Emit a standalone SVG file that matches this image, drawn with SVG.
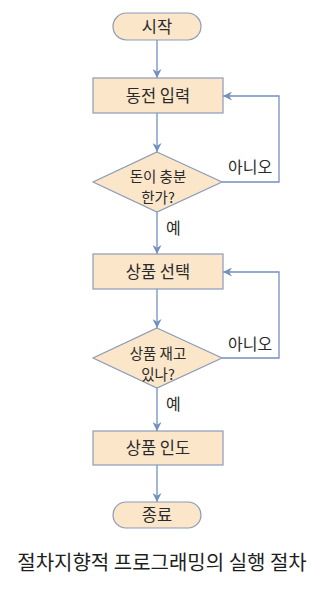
<svg xmlns="http://www.w3.org/2000/svg" width="334" height="590" viewBox="0 0 334 590">
<style>
.n{fill:#fbe6ca;stroke:#8c9cb6;stroke-width:1.2}
.t{font-family:"Noto Sans CJK KR","Noto Sans",sans-serif;font-size:16.5px;fill:#2a2a2a;text-anchor:middle}
.d{font-family:"Noto Sans CJK KR","Noto Sans",sans-serif;font-size:14.5px;fill:#2a2a2a;text-anchor:middle}
.l{font-family:"Noto Sans CJK KR","Noto Sans",sans-serif;font-size:16px;fill:#2a2a2a}
.c{fill:none;stroke:#7290c0;stroke-width:1.3}
.cap{font-family:"Noto Sans CJK KR","Noto Sans",sans-serif;font-size:20px;fill:#1e1e1e;text-anchor:middle}
</style>
<defs>
<marker id="a" viewBox="0 0 10 10" refX="10" refY="5" markerWidth="9" markerHeight="9" markerUnits="userSpaceOnUse" orient="auto">
<path d="M0,0 L10,5 L0,10 L3,5 Z" fill="#7290c0"/>
</marker>
</defs>
<rect width="334" height="590" fill="#ffffff"/>
<g id="connectors">
<line class="c" x1="157" y1="40" x2="157" y2="78" marker-end="url(#a)"/>
<line class="c" x1="157" y1="113" x2="157" y2="152" marker-end="url(#a)"/>
<polyline class="c" points="222,182 279,182 279,96 223,96" marker-end="url(#a)"/>
<line class="c" x1="157" y1="212" x2="157" y2="254" marker-end="url(#a)"/>
<line class="c" x1="157" y1="289" x2="157" y2="328" marker-end="url(#a)"/>
<polyline class="c" points="222,358 279,358 279,272 223,272" marker-end="url(#a)"/>
<line class="c" x1="157" y1="388" x2="157" y2="431" marker-end="url(#a)"/>
<line class="c" x1="157" y1="465" x2="157" y2="502" marker-end="url(#a)"/>
<text class="l" x="228" y="173">아니오</text>
<text class="l" x="166" y="234">예</text>
<text class="l" x="228" y="350">아니오</text>
<text class="l" x="166" y="410">예</text>
</g>
<g id="start">
<rect class="n" x="113" y="13" width="88" height="27" rx="13.5"/>
<text class="t" x="157" y="32.5">시작</text>
</g>
<g id="coin">
<rect class="n" x="93" y="78" width="130" height="35"/>
<text class="t" x="158" y="101.5">동전 입력</text>
</g>
<g id="enough">
<polygon class="n" points="157,152 222,182 157,212 93,182"/>
<text class="d"><tspan x="158" y="181.5">돈이 충분</tspan><tspan x="158" y="202.8">한가?</tspan></text>
</g>
<g id="select">
<rect class="n" x="93" y="254" width="130" height="35"/>
<text class="t" x="158" y="277.5">상품 선택</text>
</g>
<g id="stock">
<polygon class="n" points="157,328 222,358 157,388 93,358"/>
<text class="d"><tspan x="158" y="358.5">상품 재고</tspan><tspan x="158" y="379.8">있나?</tspan></text>
</g>
<g id="deliver">
<rect class="n" x="93" y="431" width="130" height="34"/>
<text class="t" x="158" y="454">상품 인도</text>
</g>
<g id="end">
<rect class="n" x="113" y="502" width="88" height="26" rx="13"/>
<text class="t" x="157" y="521">종료</text>
</g>
<text class="cap" x="162" y="570">절차지향적 프로그래밍의 실행 절차</text>
</svg>
